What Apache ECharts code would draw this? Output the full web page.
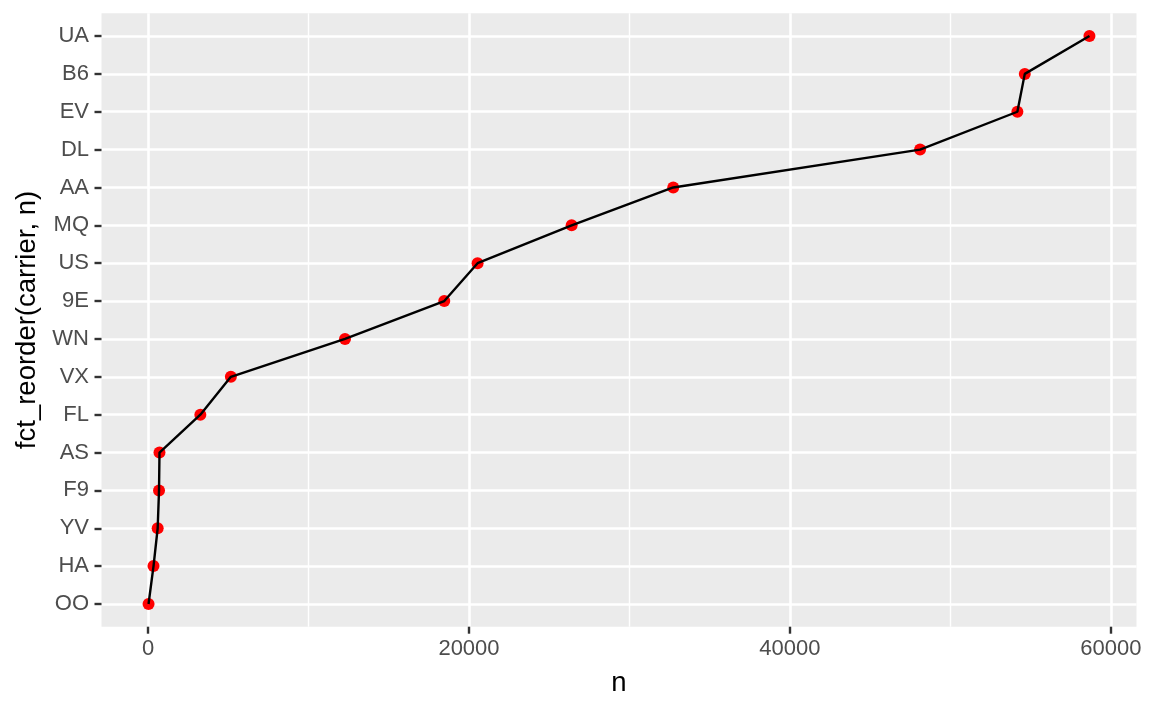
<!DOCTYPE html>
<html>
<head>
<meta charset="utf-8">
<script src="https://cdn.jsdelivr.net/npm/echarts@6/dist/echarts.min.js"></script>
<style>
html,body{margin:0;padding:0;background:#fff;}
#chart{width:1152px;height:711px;}
</style>
</head>
<body>
<div id="chart"></div>
<script>
const carriers = ['OO','HA','YV','F9','AS','FL','VX','WN','9E','US','MQ','AA','DL','EV','B6','UA'];
const counts = [32,342,601,685,714,3260,5162,12275,18460,20536,26397,32729,48110,54173,54635,58665];
const xTicks = [0,20000,40000,60000];
const xMinorTicks = [10000,30000,50000];

const yIdx = carriers.map((c,i)=>i);
const points = counts.map((v,i)=>[v,i]);
const dmin = Math.min(...counts), dmax = Math.max(...counts);
const xMin = dmin - 0.05*(dmax-dmin);
const xMax = dmax + 0.05*(dmax-dmin);

const FONT = 'Liberation Sans, Arial, Helvetica, sans-serif';
const chart = echarts.init(document.getElementById('chart'), null, {renderer:'canvas'});
chart.setOption({
  animation:false,
  backgroundColor:'#ffffff',
  grid:{left:101.5, right:15.5, top:13.3, bottom:84.3, show:true, backgroundColor:'#EBEBEB', borderWidth:0},
  xAxis:[{
    type:'value', min:xMin, max:xMax,
    name:'n', nameLocation:'middle', nameGap:42.5,
    nameTextStyle:{color:'#000', fontSize:27.5, fontFamily:FONT},
    axisLine:{show:false, onZero:false},
    axisTick:{show:true, customValues:xTicks, length:7, lineStyle:{color:'#333333', width:2.4}},
    axisLabel:{customValues:xTicks, formatter:v=>String(v), color:'#4D4D4D', fontSize:22, fontFamily:FONT, margin:11},
    splitLine:{show:true, lineStyle:{color:'#ffffff', width:2.6}},
    z:1
  },{
    type:'value', min:xMin, max:xMax, position:'bottom',
    axisLine:{show:false, onZero:false},
    axisTick:{show:false, customValues:xMinorTicks},
    axisLabel:{show:false, customValues:xMinorTicks},
    splitLine:{show:true, lineStyle:{color:'#ffffff', width:1.4}},
    z:0
  }],
  yAxis:{
    type:'value', min:-0.6, max:carriers.length-1+0.6,
    name:'fct_reorder(carrier, n)', nameLocation:'middle', nameGap:59, nameRotate:90,
    nameTextStyle:{color:'#000', fontSize:27.5, fontFamily:FONT},
    axisLine:{show:false, onZero:false},
    axisTick:{show:true, customValues:yIdx, length:7, lineStyle:{color:'#333333', width:2.4}},
    axisLabel:{customValues:yIdx, formatter:v=>carriers[Math.round(v)], color:'#4D4D4D', fontSize:22, fontFamily:FONT, margin:12.5},
    splitLine:{show:true, lineStyle:{color:'#ffffff', width:2.6}}
  },
  series:[{
    type:'scatter', data:points, symbolSize:12,
    itemStyle:{color:'#FF0000', opacity:1}, z:2
  },{
    type:'line', data:points, showSymbol:false, symbol:'none',
    lineStyle:{color:'#000000', width:2.4}, z:3
  }]
});
</script>
</body>
</html>
